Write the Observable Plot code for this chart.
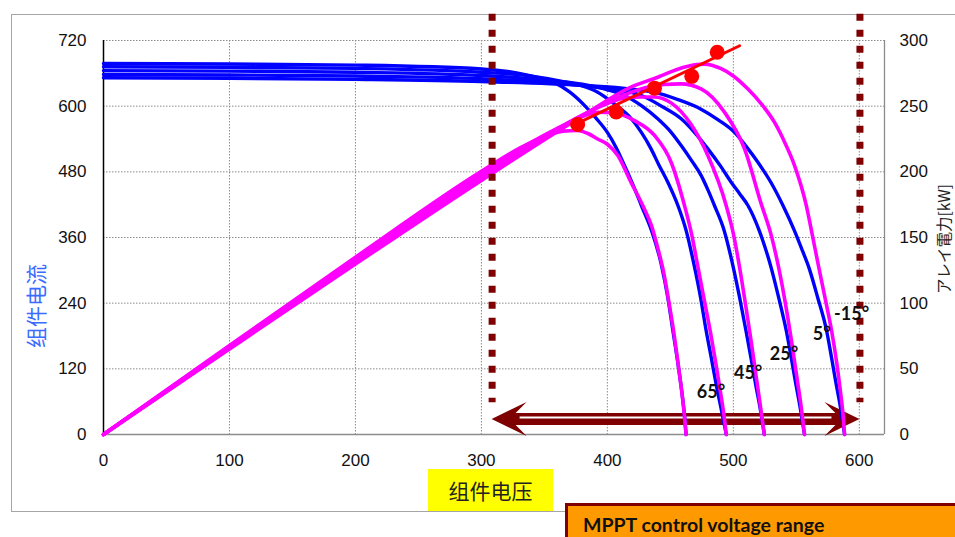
<!DOCTYPE html>
<html>
<head>
<meta charset="utf-8">
<script src="https://cdn.jsdelivr.net/npm/d3@7"></script>
<script src="https://cdn.jsdelivr.net/npm/@observablehq/plot@0.6"></script>
<style>
  html, body { margin: 0; padding: 0; background: #fff; }
  #wrap { position: relative; width: 955px; height: 537px; overflow: hidden; background: #fff; }
  #frame { position: absolute; left: 11px; top: 14px; width: 960px; height: 498px; border: 1.5px solid #a6a6a6; box-sizing: border-box; }
  #chart { position: absolute; left: 0; top: 0; }
  .ylab { position: absolute; white-space: nowrap; line-height: 1; transform: translate(-50%, -50%) rotate(-90deg); }
  #ylabL { left: 35px; top: 306px; color: #3b6cff; font: 21px "Noto Sans CJK SC", sans-serif; line-height: 1; }
  #ylabR { left: 944px; top: 239px; color: #222; font: 15.5px "Noto Sans CJK JP", sans-serif; line-height: 1; }
  #xlab { position: absolute; left: 428px; top: 469px; width: 125px; height: 42px; background: #ffff00;
          font: 21px "Noto Sans CJK SC", sans-serif; color: #222; display: flex; align-items: center; justify-content: center; }
  #mppt { position: absolute; left: 565px; top: 503px; width: 400px; height: 60px; background: #ff9900;
          border: 3px solid #7f0000; box-sizing: border-box; }
  #mpptText { position: absolute; left: 583px; top: 513px; font: bold 19.5px Lato, "Open Sans", sans-serif; color: #111; white-space: nowrap; }
</style>
</head>
<body>
<div id="wrap">
  <div id="frame"></div>
  <div id="chart"></div>
  <div id="xlab">组件电压</div>
  <div id="mppt"></div>
  <div id="mpptText">MPPT control voltage range</div>
  <div id="ylabL" class="ylab">组件电流</div>
  <div id="ylabR" class="ylab">アレイ電力[kW]</div>
</div>
<script>
// ---------- axis ticks ----------
const voltTicks = [0, 100, 200, 300, 400, 500, 600];
const currentTicks = [0, 120, 240, 360, 480, 600, 720];
const powerTicks = [0, 50, 100, 150, 200, 250, 300];
const voltMax = 620, currentMax = 720, powerMax = 300;

// ---------- series: temperatures ----------
const temps = ["-15°", "5°", "25°", "45°", "65°"];

// I-V curves [voltage V, current A]
const ivM15 = [[0,652],[100,651],[200,649],[300,645],[380,638],[420,631],[437,625.6],[456,612],[474,595],[488,575],[501,552],[510,527],[519.5,497.6],[530,460],[539.4,418.5],[548.4,373],[555,335],[560,305],[567,250],[574,190],[578,140],[581,100],[585,50],[588.3,0]];
const iv5   = [[0,658],[100,657],[200,655],[300,650],[360,642],[400,632],[427,619.5],[443,600],[458.6,577],[470,550],[479.8,522],[490,490],[498.3,461],[505,440],[511.6,418.5],[520.5,373],[530,305],[536,250],[542,190],[546,140],[549,100],[553,50],[556.5,0]];
const iv25  = [[0,665],[100,664],[200,662],[300,656],[350,648],[380,640],[400,630],[413.5,619.5],[427,601],[440,577],[450,554],[458.6,528],[467,500],[474.5,473],[480,446],[485,418.5],[492.7,373],[500,305],[505,250],[510,190],[514,140],[518,88],[521.5,45],[524.6,0]];
const iv45  = [[0,672],[100,671],[200,669],[300,662],[340,655],[365,645],[380,637],[392,626],[405,605],[419,577],[427,552],[434.7,522],[441,492],[448,461],[456,418.5],[462.5,373],[469,308],[474,250],[478.4,190],[482.5,140],[486.5,90],[490.5,45],[494.4,0]];
const iv65  = [[0,678],[100,677],[200,675],[300,668],[330,660],[345,652],[358,643],[370,626],[382,601],[391,578],[400,552],[407,524],[413.5,492],[420,458],[427,418.5],[435,373],[442.7,312],[448,250],[452,190],[456,130],[459,80],[461,40],[462.5,0]];

// P-V curves [voltage V, power kW]
const pvM15 = [[0,0],[100,65.1],[200,129.8],[300,193.5],[380,242.4],[420,265],[440,272],[460,279.5],[477,282],[490.3,278.5],[500,273],[511.4,263.2],[522,252],[532.6,237.8],[541,222],[548.6,204.8],[557.9,174.4],[562,155.3],[568,126.4],[573,103],[578,79],[582,55],[585,33],[587,16],[588.3,0]];
const pv5   = [[0,0],[100,65.7],[200,131],[300,195],[360,231],[400,252.8],[430,264],[445,266.5],[458.6,267],[474.4,263.2],[493,245.4],[508.9,217.5],[522,176],[530,152],[536,127],[542,96],[547,66],[551,40],[554,20],[556.5,0]];
const pv25  = [[0,0],[100,66.4],[200,132.4],[300,196.8],[350,226.8],[380,243.2],[400,252],[413.5,256.2],[427,257],[437,257],[450.6,252.5],[466.5,236],[479.8,212.4],[494.3,174.4],[500,153],[505,127],[510,97],[514,72],[518,45],[521,25],[524.6,0]];
const pv45  = [[0,0],[100,67.1],[200,133.8],[300,198.6],[340,222.7],[365,235.4],[380,242],[392,245.4],[405,245],[421.5,239],[437.4,227.7],[450.6,207.3],[461.2,174.4],[467,152],[472,127],[477,102],[482,77],[486.5,52],[490,31],[492.5,15],[494.4,0]];
const pv65  = [[0,0],[100,67.7],[200,135],[300,200.4],[330,217.8],[350,227],[365,231],[376,231.5],[385,229],[392.3,225],[400,221],[408.3,212.4],[418.8,192],[428.1,174.4],[435,159],[440,142],[445,122],[449,100],[453,76],[456,55],[459,33],[461,16],[462.5,0]];

// maximum power points [V, kW] and their trend line
const mpptPoints = [[376.4,236],[407,245.6],[437.4,263.7],[467,272.7],[487.2,291]];
const mpptTrend = [[372,235],[505,296]];

// MPPT voltage range [V] and arrow level [A]
const mpptRange = [308.5, 600.5];
const arrowLevel = 27.4;
const dottedSpan = [768, 58]; // current units, top to bottom

// temperature label anchors [V, A]
const tempLabels = [["-15°",580,220],["5°",563,183],["25°",529,146],["45°",500.5,112],["65°",471,77]];

// ---------- build tables ----------
const ivSets = [ivM15, iv5, iv25, iv45, iv65];
const pvSets = [pvM15, pv5, pv25, pv45, pv65];
const k = currentMax / powerMax;
const ivRows = ivSets.flatMap((s, j) => s.map(([v, i]) => ({temp: temps[j], v, i})));
const pvRows = pvSets.flatMap((s, j) => s.map(([v, p]) => ({temp: temps[j], v, p})));

const NS = "http://www.w3.org/2000/svg";
function arrowMark(index, scales) {
  const xa = scales.x(mpptRange[0]), xb = scales.x(mpptRange[1]), yc = scales.y(arrowLevel);
  const head = 35, half = 17, notch = 24, up = 6, dn = 6;
  const g = document.createElementNS(NS, "g");
  const p = document.createElementNS(NS, "path");
  p.setAttribute("d", `M${xa},${yc} L${xa+head},${yc-half} L${xa+notch},${yc-up} L${xb-notch},${yc-up} L${xb-head},${yc-half} L${xb},${yc} L${xb-head},${yc+half} L${xb-notch},${yc+dn} L${xa+notch},${yc+dn} L${xa+head},${yc+half} Z`);
  p.setAttribute("fill", "#7f0000");
  g.appendChild(p);
  const w = document.createElementNS(NS, "line");
  w.setAttribute("x1", xa + notch + 4); w.setAttribute("x2", xb - notch - 4);
  w.setAttribute("y1", yc - 1.4); w.setAttribute("y2", yc - 1.4);
  w.setAttribute("stroke", "#fff"); w.setAttribute("stroke-width", 2);
  g.appendChild(w);
  return g;
}

const grid = {stroke: "#8c8c8c", strokeDasharray: "1.5,1.5", strokeWidth: 1, strokeOpacity: 1};

const chart = Plot.plot({
  width: 955,
  height: 537,
  marginLeft: 103,
  marginRight: 71,
  marginTop: 40,
  marginBottom: 103,
  style: {fontFamily: "'Liberation Sans', Arial, sans-serif", fontSize: "17px", background: "transparent", overflow: "visible"},
  x: {domain: [0, voltMax], axis: null},
  y: {domain: [0, currentMax], axis: null},
  marks: [
    Plot.ruleY(currentTicks.slice(1), grid),
    Plot.ruleX(voltTicks.slice(1), grid),
    Plot.ruleY([0], {stroke: "#8c8c8c", strokeWidth: 1.3}),
    Plot.ruleX([voltMax], {stroke: "#8c8c8c", strokeWidth: 1.3}),
    Plot.ruleX([0], {stroke: "#000", strokeWidth: 1.5}),
    Plot.text(currentTicks, {x: 0, y: d => d, text: d => String(d), dx: -17, textAnchor: "end", fill: "#111"}),
    Plot.text(voltTicks, {x: d => d, y: 0, text: d => String(d), dy: 26, fill: "#111"}),
    Plot.text(powerTicks, {x: voltMax, y: d => d * k, text: d => String(d), dx: 15, textAnchor: "start", fill: "#111"}),
    arrowMark,
    Plot.line(ivRows, {x: "v", y: "i", z: "temp", stroke: "#0000ff", strokeWidth: 3.4, curve: "monotone-x"}),
    Plot.line(pvRows, {x: "v", y: d => d.p * k, z: "temp", stroke: "#ff00ff", strokeWidth: 3.6, curve: "monotone-x"}),
    Plot.line(mpptTrend, {x: d => d[0], y: d => d[1] * k, stroke: "#ff0000", strokeWidth: 3}),
    Plot.dot(mpptPoints, {x: d => d[0], y: d => d[1] * k, r: 7.5, fill: "#ff0000", stroke: "none"}),
    Plot.ruleX(mpptRange, {y1: dottedSpan[0], y2: dottedSpan[1], stroke: "#7f0000", strokeWidth: 7, strokeDasharray: "7,9"}),
    Plot.text(tempLabels, {x: d => d[1], y: d => d[2], text: d => d[0], textAnchor: "start", fontWeight: "bold", fontSize: 18, fontFamily: "Lato, 'Open Sans', sans-serif", fill: "#111"})
  ]
});
document.getElementById("chart").appendChild(chart);
</script>
</body>
</html>
